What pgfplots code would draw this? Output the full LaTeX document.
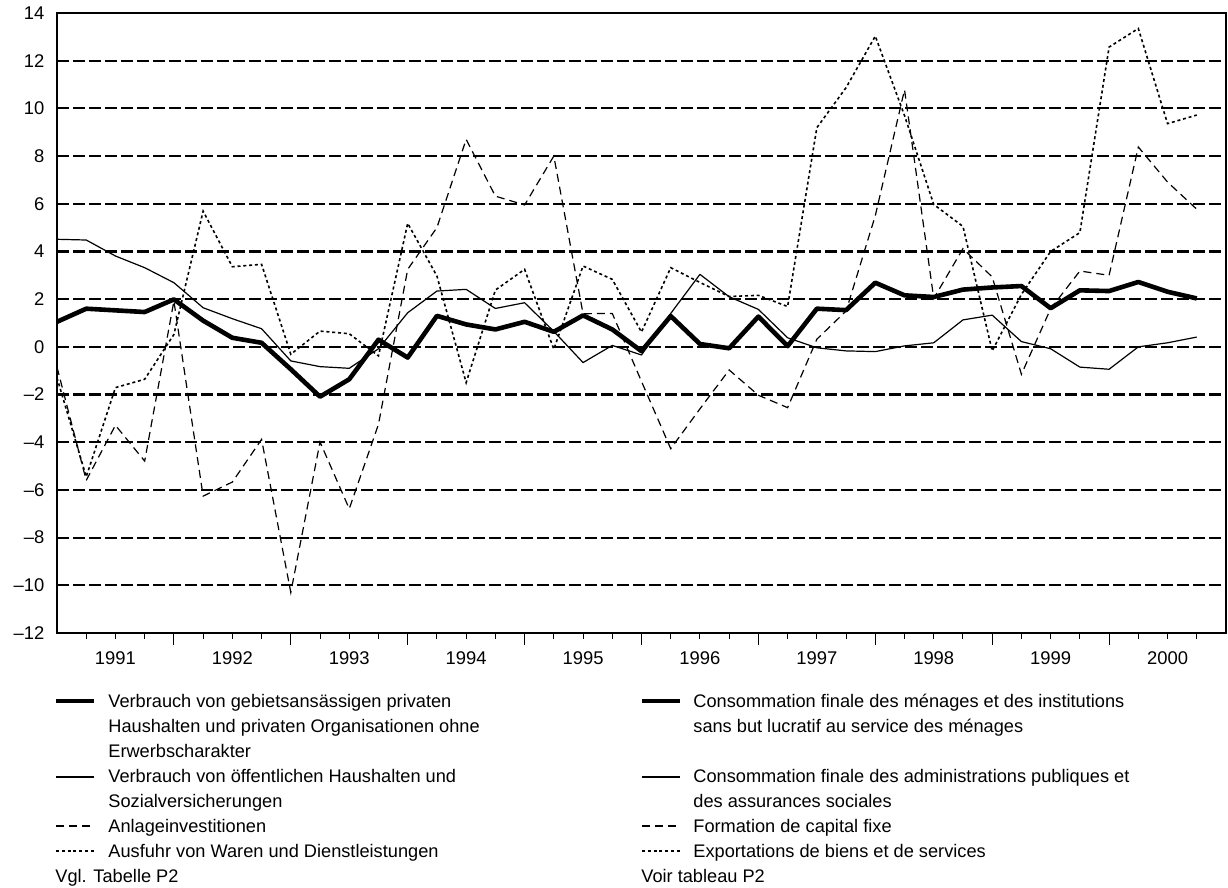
\documentclass[border=0pt]{standalone}
\usepackage{fontspec}
\setmainfont{Liberation Sans}
\usepackage{pgfplots}
\usepackage{pgfplotstable}
\pgfplotsset{compat=1.18}

% quarterly changes, 1991 Q1 .. 2000 Q4 (x = 0..39)
\pgfplotstableread{
q  priv   gov    inv     exp
0  1.05   4.51   -0.85   -1.30
1  1.60   4.48   -5.60   -5.45
2  1.53   3.81   -3.29   -1.71
3  1.46   3.32   -4.79   -1.36
4  1.99   2.69    1.92    0.52
5  1.10   1.64   -6.26    5.69
6  0.38   1.18   -5.67    3.36
7  0.17   0.76   -3.88    3.46
8  -0.94  -0.59  -10.30  -0.31
9  -2.09  -0.83  -3.99    0.66
10 -1.36  -0.90  -6.79    0.55
11 0.30   -0.08  -3.25   -0.38
12 -0.45  1.43    3.25    5.18
13 1.30   2.34    5.00    2.97
14 0.94   2.41    8.70   -1.50
15 0.73   1.61    6.32    2.38
16 1.05   1.85    5.95    3.25
17 0.63   0.65    8.00   -0.10
18 1.32   -0.66   1.39    3.39
19 0.73   0.06    1.40    2.83
20 -0.18  -0.34  -1.45    0.62
21 1.29   1.40   -4.27    3.32
22 0.12   3.04   -2.60    2.70
23 -0.06  2.10   -0.97    2.11
24 1.27   1.57   -2.03    2.16
25 0.03   0.38   -2.55    1.69
26 1.60   -0.04   0.32    9.19
27 1.54   -0.17   1.50   10.87
28 2.69   -0.20   5.50   13.03
29 2.16   0.04   10.78    9.70
30 2.09   0.17    2.03    5.97
31 2.40   1.13    4.12    5.05
32 2.49   1.33    2.93   -0.17
33 2.55   0.22   -1.15    2.20
34 1.62   -0.08   1.60    4.00
35 2.37   -0.85   3.18    4.79
36 2.34   -0.94   3.00   12.57
37 2.72   0.00    8.38   13.35
38 2.31   0.17    6.91    9.36
39 2.03   0.41    5.77    9.72
}\datatable

\tikzset{
  privstyle/.style={black, line width=2.3pt, line join=round},
  govstyle/.style={black, line width=0.6pt, line join=round},
  invstyle/.style={black, line width=0.6pt, dash pattern=on 4pt off 2.5pt},
  expstyle/.style={black, line width=0.8pt, dash pattern=on 1.5pt off 1.4pt},
}

\begin{document}
\begin{tikzpicture}
\begin{axis}[
  at={(28.5pt,-316.5pt)}, anchor=south west,
  scale only axis, width=584.5pt, height=310pt,
  xmin=0, xmax=40, ymin=-12, ymax=14,
  axis line style={black, line width=1pt},
  xtick={2,6,...,38},
  xticklabels={1991,1992,1993,1994,1995,1996,1997,1998,1999,2000},
  minor xtick={1,3,...,39},
  extra x ticks={4,8,...,36},
  extra x tick labels={},
  extra x tick style={major tick length=6pt},
  xtick pos=bottom, tick align=outside,
  major tick length=2.8pt, minor tick length=2.8pt,
  xtick style={black, line width=0.5pt},
  minor x tick style={black, line width=0.5pt},
  ytick={-12,-10,...,14},
  yticklabels={–12,–10,–8,–6,–4,–2,0,2,4,6,8,10,12,14},
  ytick pos=left,
  ytick style={draw=none},
  ymajorgrids,
  major grid style={black, line width=1.1pt, dash pattern=on 6pt off 2pt},
  tick label style={font=\fontsize{9.2pt}{11pt}\selectfont},
  xticklabel style={yshift=-3pt},
]
\addplot[expstyle] table[x=q, y=exp] {\datatable};
\addplot[invstyle] table[x=q, y=inv] {\datatable};
\addplot[govstyle] table[x=q, y=gov] {\datatable};
\addplot[privstyle] table[x=q, y=priv] {\datatable};
\end{axis}

\begin{scope}[x=0.5pt, y=-0.5pt, font=\fontsize{9.1pt}{11pt}\selectfont,
  every node/.style={anchor=base west, inner sep=0pt}]
  % German column
  \draw[privstyle] (56,701) -- (94,701);
  \node at (108,707) {Verbrauch von gebietsansässigen privaten};
  \node at (108,732) {Haushalten und privaten Organisationen ohne};
  \node at (108,757) {Erwerbscharakter};
  \draw[govstyle] (56,777) -- (94,777);
  \node at (108,782) {Verbrauch von öffentlichen Haushalten und};
  \node at (108,807) {Sozialversicherungen};
  \draw[invstyle] (56,826) -- (94,826);
  \node at (108,832) {Anlageinvestitionen};
  \draw[expstyle] (56,851) -- (94,851);
  \node at (108,857) {Ausfuhr von Waren und Dienstleistungen};
  \node at (55,882) {Vgl. Tabelle P2};
  % French column
  \draw[privstyle] (642,701) -- (680,701);
  \node at (693,707) {Consommation finale des ménages et des institutions};
  \node at (693,732) {sans but lucratif au service des ménages};
  \draw[govstyle] (642,777) -- (680,777);
  \node at (693,782) {Consommation finale des administrations publiques et};
  \node at (693,807) {des assurances sociales};
  \draw[invstyle] (642,826) -- (680,826);
  \node at (693,832) {Formation de capital fixe};
  \draw[expstyle] (642,851) -- (680,851);
  \node at (693,857) {Exportations de biens et de services};
  \node at (641,882) {Voir tableau P2};
  \pgfresetboundingbox
  \path[use as bounding box] (0,0) rectangle (1228,888);
\end{scope}
\end{tikzpicture}
\end{document}
